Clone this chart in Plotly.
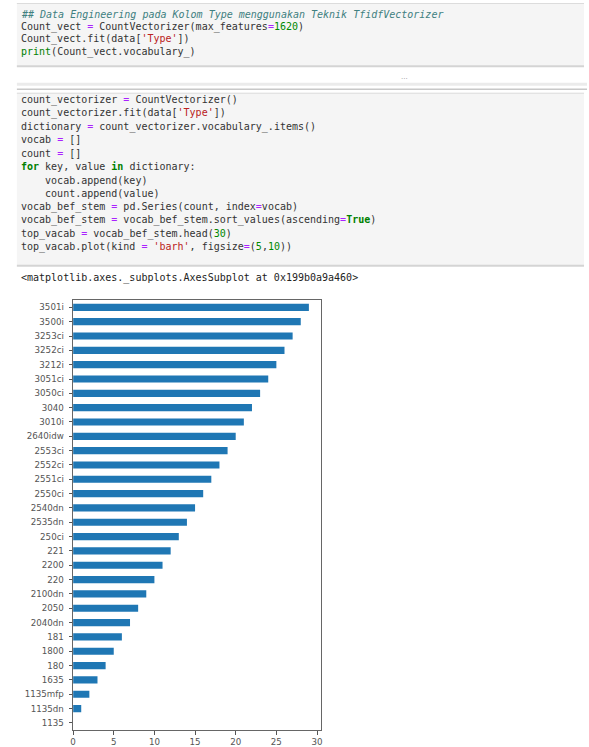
import plotly.graph_objects as go

# ---- data (bottom to top, as pandas barh draws it) ----
labels = ["1135", "1135dn", "1135mfp", "1635", "180", "1800", "181", "2040dn",
          "2050", "2100dn", "220", "2200", "221", "250ci", "2535dn", "2540dn",
          "2550ci", "2551ci", "2552ci", "2553ci", "2640idw", "3010i", "3040",
          "3050ci", "3051ci", "3212i", "3252ci", "3253ci", "3500i", "3501i"]
values = [0, 1, 2, 3, 4, 5, 6, 7, 8, 9, 10, 11, 12, 13, 14, 15, 16, 17, 18, 19,
          20, 21, 22, 23, 24, 25, 26, 27, 28, 29]
x_ticks = [0, 5, 10, 15, 20, 25, 30]

W, H = 589, 747

def px(x):
    return x / W

def py(y):
    return 1 - y / H

fig = go.Figure()
fig.add_trace(go.Bar(
    x=values, y=labels, orientation="h", width=0.5,
    marker=dict(color="#1f77b4", line=dict(width=0)),
    hoverinfo="x+y"))

fig.update_layout(
    width=W, height=H, margin=dict(l=0, r=0, t=0, b=0),
    paper_bgcolor="white", plot_bgcolor="white", showlegend=False,
    xaxis=dict(domain=[px(70.7), px(320.4)], range=[0, 30.45],
               tickvals=x_ticks, ticks="outside", ticklen=3.5, tickwidth=1,
               tickcolor="#555", showgrid=False, zeroline=False,
               showline=True, linecolor="#666", linewidth=1, mirror=True,
               tickfont=dict(family="DejaVu Sans", size=8.7, color="#555"),
               anchor="y"),
    yaxis=dict(domain=[py(732), py(301)], type="category",
               categoryorder="array", categoryarray=labels,
               range=[-0.5, 29.5], ticks="outside", ticklen=3.5, tickwidth=1,
               tickcolor="#555", showgrid=False, zeroline=False,
               showline=True, linecolor="#666", linewidth=1, mirror=True,
               ticklabelstandoff=3,
               tickfont=dict(family="DejaVu Sans", size=8.7, color="#555"),
               anchor="x"),
)

# ---- notebook cell backgrounds ----
shapes = []
# cell 1
shapes.append(dict(type="rect", xref="paper", yref="paper",
                   x0=px(14), x1=px(586), y0=py(67), y1=py(3),
                   fillcolor="#f5f5f5", line=dict(width=0), layer="below"))
shapes.append(dict(type="line", xref="paper", yref="paper",
                   x0=px(14), x1=px(586), y0=py(3.5), y1=py(3.5),
                   line=dict(color="#dcdcdc", width=1)))
shapes.append(dict(type="line", xref="paper", yref="paper",
                   x0=px(14), x1=px(586), y0=py(66.5), y1=py(66.5),
                   line=dict(color="#d4d4d4", width=2)))
# separator bands
shapes.append(dict(type="rect", xref="paper", yref="paper",
                   x0=px(14), x1=px(589), y0=py(86), y1=py(83),
                   fillcolor="#ebebeb", line=dict(width=0)))
shapes.append(dict(type="line", xref="paper", yref="paper",
                   x0=px(14), x1=px(589), y0=py(89.5), y1=py(89.5),
                   line=dict(color="#c8c8c8", width=1.5)))
# cell 2
shapes.append(dict(type="rect", xref="paper", yref="paper",
                   x0=px(14), x1=px(586), y0=py(267), y1=py(93),
                   fillcolor="#f5f5f5", line=dict(width=0), layer="below"))
shapes.append(dict(type="line", xref="paper", yref="paper",
                   x0=px(14), x1=px(586), y0=py(93.5), y1=py(93.5),
                   line=dict(color="#dcdcdc", width=1)))
shapes.append(dict(type="line", xref="paper", yref="paper",
                   x0=px(14), x1=px(586), y0=py(266.5), y1=py(266.5),
                   line=dict(color="#d4d4d4", width=2)))
fig.update_layout(shapes=shapes)

# ---- code text ----
C_DEF = "#333333"
C_OP = "#AA22FF"
C_NUM = "#008800"
C_STR = "#BA2121"
C_KW = "#008000"
C_COM = "#408080"

def tok(t, kind=None):
    return (t, kind)

def render(tokens):
    out = []
    for t, kind in tokens:
        s = t.replace("&", "&amp;").replace("<", "&lt;").replace(">", "&gt;")
        s = s.replace(" ", "\u00a0")
        if kind is None:
            out.append(s)
        elif kind == "op":
            out.append(f'<span style="color:{C_OP}">{s}</span>')
        elif kind == "num":
            out.append(f'<span style="color:{C_NUM}">{s}</span>')
        elif kind == "str":
            out.append(f'<span style="color:{C_STR}">{s}</span>')
        elif kind == "kw":
            out.append(f'<span style="color:{C_KW}"><b>{s}</b></span>')
        elif kind == "builtin":
            out.append(f'<span style="color:{C_KW}">{s}</span>')
        elif kind == "com":
            out.append(f'<span style="color:{C_COM}"><i>{s}</i></span>')
    return "".join(out)

E = ("=", "op")
cell1 = [
    [("## Data Engineering pada Kolom Type menggunakan Teknik TfidfVectorizer", "com")],
    [tok("Count_vect "), E, tok(" CountVectorizer(max_features"), E,
     ("1620", "num"), tok(")")],
    [tok("Count_vect.fit(data["), ("'Type'", "str"), tok("])")],
    [("print", "builtin"), tok("(Count_vect.vocabulary_)")],
]
cell1_y = [14.3, 26.8, 39.3, 51.8]

cell2 = [
    [tok("count_vectorizer "), E, tok(" CountVectorizer()")],
    [tok("count_vectorizer.fit(data["), ("'Type'", "str"), tok("])")],
    [tok("dictionary "), E, tok(" count_vectorizer.vocabulary_.items()")],
    [tok("vocab "), E, tok(" []")],
    [tok("count "), E, tok(" []")],
    [("for", "kw"), tok(" key, value "), ("in", "kw"), tok(" dictionary:")],
    [tok("    vocab.append(key)")],
    [tok("    count.append(value)")],
    [tok("vocab_bef_stem "), E, tok(" pd.Series(count, index"), E, tok("vocab)")],
    [tok("vocab_bef_stem "), E, tok(" vocab_bef_stem.sort_values(ascending"), E,
     ("True", "kw"), tok(")")],
    [tok("top_vacab "), E, tok(" vocab_bef_stem.head("), ("30", "num"), tok(")")],
    [tok("top_vacab.plot(kind "), E, tok(" "), ("'barh'", "str"), tok(", figsize"), E,
     tok("("), ("5", "num"), tok(","), ("10", "num"), tok("))")],
]
cell2_y = [100 + i * 13.45 for i in range(len(cell2))]

annotations = []
for toks, y in list(zip(cell1, cell1_y)) + list(zip(cell2, cell2_y)):
    annotations.append(dict(
        text=render(toks), xref="paper", yref="paper", x=px(16), y=py(y),
        xanchor="left", yanchor="middle", showarrow=False,
        font=dict(family="DejaVu Sans Mono", size=10, color=C_DEF)))

annotations.append(dict(
    text=render([tok("<matplotlib.axes._subplots.AxesSubplot at 0x199b0a9a460>")]),
    xref="paper", yref="paper", x=px(16), y=py(279), xanchor="left",
    yanchor="middle", showarrow=False,
    font=dict(family="DejaVu Sans Mono", size=10, color="#222")))

annotations.append(dict(
    text="...", xref="paper", yref="paper", x=px(405), y=py(77),
    xanchor="center", yanchor="middle", showarrow=False,
    font=dict(family="DejaVu Sans", size=7, color="#999")))

fig.update_layout(annotations=annotations)

fig.write_html("out.html")
